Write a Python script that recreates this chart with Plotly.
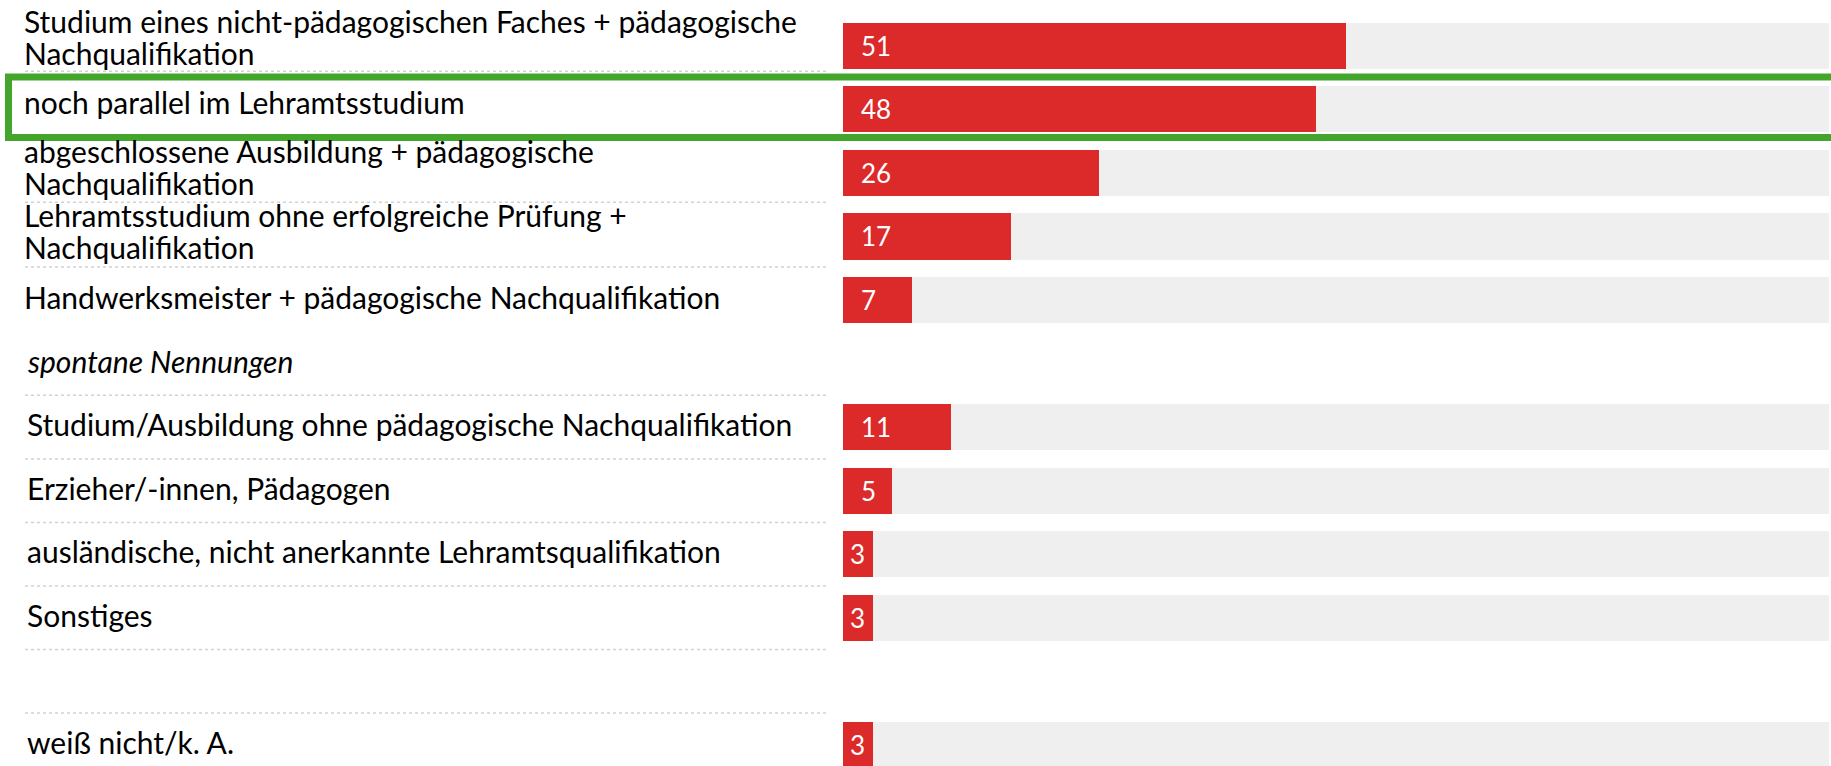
import plotly.graph_objects as go

# ---- data ----
categories = [
    "Studium eines nicht-pädagogischen Faches + pädagogische<br>Nachqualifikation",
    "noch parallel im Lehramtsstudium",
    "abgeschlossene Ausbildung + pädagogische<br>Nachqualifikation",
    "Lehramtsstudium ohne erfolgreiche Prüfung +<br>Nachqualifikation",
    "Handwerksmeister + pädagogische Nachqualifikation",
    "<i>spontane Nennungen</i>",
    "Studium/Ausbildung ohne pädagogische Nachqualifikation",
    "Erzieher/-innen, Pädagogen",
    "ausländische, nicht anerkannte Lehramtsqualifikation",
    "Sonstiges",
    "",
    "weiß nicht/k. A.",
]
values = [51, 48, 26, 17, 7, None, 11, 5, 3, 3, None, 3]
scale_max = 100

# ---- geometry / style ----
W, H = 1831, 766
FONT = "Lato"
RED = "#DC292A"
GREY = "#EFEFEF"
GREEN = "#44A52C"
DOT = "#D2D2D2"
BAR_W = 0.728
X0_PX, X1_PX = 843, 1829
PX_PER_UNIT = (X1_PX - X0_PX) / scale_max

rows = list(range(len(categories)))
bg = [scale_max if v is not None else None for v in values]

fig = go.Figure()
fig.add_trace(go.Bar(y=rows, x=bg, orientation="h", width=BAR_W,
                     marker=dict(color=GREY, line=dict(width=0)), hoverinfo="skip"))
fig.add_trace(go.Bar(y=rows, x=values, orientation="h", width=BAR_W,
                     marker=dict(color=RED, line=dict(width=0))))

annotations = []
label_shift = {0: 9, 1: 7, 2: 6, 3: 5}
for i, lab in enumerate(categories):
    if not lab:
        continue
    x_px = 23 if i < 5 else 26
    lines = lab.split("<br>")
    pitch = 32
    n = len(lines)
    base = label_shift.get(i, 3)
    for k, line in enumerate(lines):
        off = (n - 1) / 2 * pitch - k * pitch
        annotations.append(dict(
            x=x_px / W, xref="paper", y=i, yref="y", xanchor="left", yanchor="middle",
            text=line, showarrow=False, yshift=base + off, borderpad=0,
            font=dict(family=FONT, size=30, color="#000000")))

for i, v in enumerate(values):
    if v is None:
        continue
    if v * PX_PER_UNIT < 40:
        annotations.append(dict(x=v / 2, xref="x", y=i, yref="y", xanchor="center",
                                yanchor="middle", text=str(v), showarrow=False,
                                font=dict(family=FONT, size=26, color="white")))
    else:
        annotations.append(dict(x=0, xref="x", y=i, yref="y", xanchor="left",
                                yanchor="middle", text=str(v), showarrow=False, xshift=16,
                                font=dict(family=FONT, size=26, color="white")))

shapes = []
for yy in [0.4, 2.46, 3.48, 5.5, 6.5, 7.5, 8.5, 9.5, 10.5]:
    shapes.append(dict(type="line", xref="paper", x0=25 / W, x1=829 / W, yref="y",
                       y0=yy, y1=yy, line=dict(color=DOT, width=1.5, dash="dot")))
shapes.append(dict(type="rect", xref="paper", x0=8.5 / W, x1=1.01, yref="y",
                   y0=0.49, y1=1.443, line=dict(color=GREEN, width=7),
                   fillcolor="rgba(0,0,0,0)", layer="above"))

row_c0 = 45.8
pitch_px = 63.55
y_top = -row_c0 / pitch_px
y_bot = (H - row_c0) / pitch_px

fig.update_layout(
    width=W, height=H, margin=dict(l=0, r=0, t=0, b=0),
    paper_bgcolor="white", plot_bgcolor="white", showlegend=False,
    barmode="overlay", bargap=0,
    xaxis=dict(domain=[X0_PX / W, X1_PX / W], range=[0, scale_max], visible=False,
               fixedrange=True),
    yaxis=dict(range=[y_bot, y_top], visible=False, fixedrange=True),
    annotations=annotations, shapes=shapes,
    font=dict(family=FONT),
)

fig.write_html("out.html", config={"displayModeBar": False},
               post_script="document.body.style.margin='0';document.body.style.overflow='hidden';")
